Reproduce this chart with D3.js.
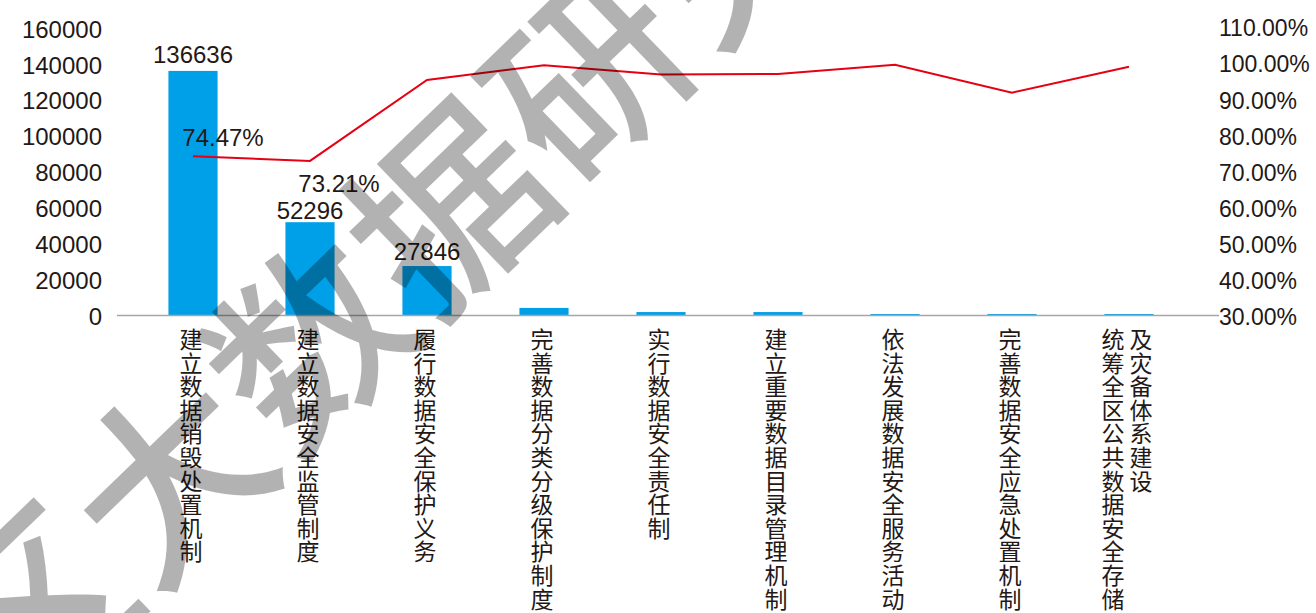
<!DOCTYPE html>
<html><head><meta charset="utf-8">
<script src="https://cdn.jsdelivr.net/npm/d3@7/dist/d3.min.js"></script>
<style>
html,body{margin:0;padding:0;background:#fff;}
svg{display:block;}
</style></head>
<body>
<svg id="chart" width="1316" height="613"></svg>
<script>
// ---------- data ----------
const categories = [
  "建立数据销毁处置机制",
  "建立数据安全监管制度",
  "履行数据安全保护义务",
  "完善数据分类分级保护制度",
  "实行数据安全责任制",
  "建立重要数据目录管理机制",
  "依法发展数据安全服务活动",
  "完善数据安全应急处置机制",
  "统筹全区公共数据安全存储及灾备体系建设"
];
const counts = [136636, 52296, 27846, 4500, 2200, 2200, 1100, 1100, 1100];
const rates = [0.7447, 0.7321, 0.956, 0.997, 0.971, 0.973, 0.998, 0.921, 0.993];
const countLabels = ["136636", "52296", "27846"];
const rateLabels = ["74.47%", "73.21%"];
const leftTicks = [0, 20000, 40000, 60000, 80000, 100000, 120000, 140000, 160000];
const rightTicks = [0.3, 0.4, 0.5, 0.6, 0.7, 0.8, 0.9, 1.0, 1.1];
const watermarkText = "区大数据研究院";

// ---------- chart ----------
const svg = d3.select("#chart");
const textColor = "#231815";
const font = "'Liberation Sans', Arial, sans-serif";

const x = d3.scaleBand().domain(categories).range([134.5, 1187.5]).paddingInner(0.58).paddingOuter(0.29);
const yL = d3.scaleLinear().domain([0, 160000]).range([316, 29]);
const yR = d3.scaleLinear().domain([0.3, 1.1]).range([317, 28]);

// left axis labels
svg.append("g").selectAll("text").data(leftTicks).join("text")
  .attr("x", 102).attr("y", d => yL(d))
  .attr("dy", "0.36em")
  .attr("text-anchor", "end")
  .attr("font-family", font).attr("font-size", 24).attr("fill", textColor)
  .text(d => d3.format("d")(d));

// right axis labels
svg.append("g").selectAll("text").data(rightTicks).join("text")
  .attr("x", 1219).attr("y", d => yR(d))
  .attr("dy", "0.36em")
  .attr("text-anchor", "start")
  .attr("font-family", font).attr("font-size", 23).attr("fill", textColor)
  .text(d => d3.format(".2%")(d));

// bars
svg.append("g").selectAll("rect").data(counts).join("rect")
  .attr("x", (d, i) => x(categories[i]))
  .attr("width", x.bandwidth())
  .attr("y", d => yL(d))
  .attr("height", d => yL(0) - yL(d))
  .attr("fill", "#00A0E9");

// category axis line
svg.append("line")
  .attr("x1", 117).attr("x2", 1219)
  .attr("y1", 315.5).attr("y2", 315.5)
  .attr("stroke", "#a6a6a6").attr("stroke-width", 1.6);

// line
const line = d3.line()
  .x((d, i) => x(categories[i]) + x.bandwidth() / 2)
  .y(d => yR(d));
svg.append("path").datum(rates)
  .attr("d", line)
  .attr("fill", "none")
  .attr("stroke", "#E60012").attr("stroke-width", 2);

// bar value labels
const countOffsets = [-8, -3, -6];
svg.append("g").selectAll("text").data(countLabels).join("text")
  .attr("x", (d, i) => x(categories[i]) + x.bandwidth() / 2)
  .attr("y", (d, i) => yL(counts[i]) + countOffsets[i])
  .attr("text-anchor", "middle")
  .attr("font-family", font).attr("font-size", 24).attr("fill", textColor)
  .text(d => d);

// rate labels (manually placed like the original)
const rateOffsets = [[30, -10], [29, 31]];
svg.append("g").selectAll("text").data(rateLabels).join("text")
  .attr("x", (d, i) => x(categories[i]) + x.bandwidth() / 2 + rateOffsets[i][0])
  .attr("y", (d, i) => yR(rates[i]) + rateOffsets[i][1])
  .attr("text-anchor", "middle")
  .attr("font-family", font).attr("font-size", 24).attr("fill", textColor)
  .text(d => d);

// category labels, stacked vertically character by character
const charStep = 23.6, maxChars = 12, colGap = 28;
const catG = svg.append("g")
  .attr("font-family", "'Noto Sans CJK SC', sans-serif")
  .attr("font-size", 23).attr("fill", textColor);
categories.forEach((c, i) => {
  const chars = Array.from(c);
  const cols = [];
  for (let k = 0; k < chars.length; k += maxChars) cols.push(chars.slice(k, k + maxChars));
  const cx = x(c) + x.bandwidth() / 2 - 2;
  cols.forEach((col, j) => {
    const colX = cx + (j - (cols.length - 1) / 2) * colGap;
    col.forEach((ch, k) => {
      catG.append("text")
        .attr("x", colX).attr("y", 338 + k * charStep)
        .attr("text-anchor", "middle")
        .attr("dominant-baseline", "central")
        .text(ch);
    });
  });
});

// watermark
const wm = svg.append("g")
  .attr("transform", "translate(22,604) rotate(-44)")
  .attr("font-family", "'Noto Sans CJK SC', sans-serif")
  .attr("font-size", 192).attr("font-weight", 500)
  .attr("fill", "#000").attr("fill-opacity", 0.3);
Array.from(watermarkText).forEach((ch, k) => {
  wm.append("text")
    .attr("x", k * 194).attr("y", 0)
    .attr("text-anchor", "middle")
    .attr("dominant-baseline", "central")
    .text(ch);
});
</script>
</body></html>
